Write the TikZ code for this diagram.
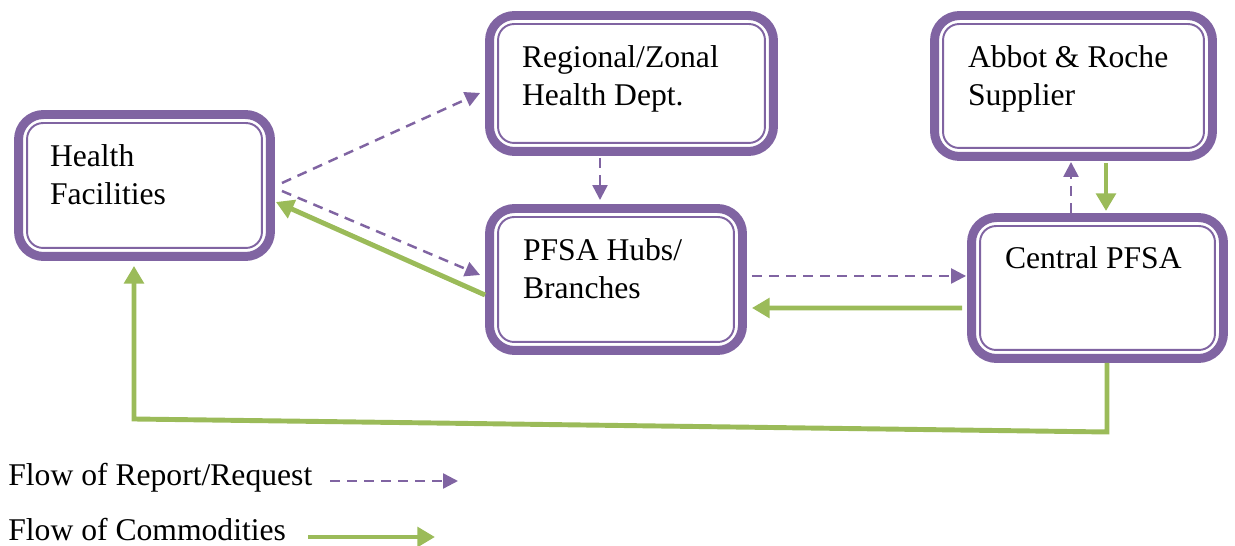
\documentclass[tikz,border=0pt]{standalone}
\usepackage{fontspec}
\setmainfont{Liberation Serif}
\usepackage{tikz}
\usetikzlibrary{arrows.meta}
\usepackage{xcolor}
\definecolor{boxpurple}{HTML}{8064A2}
\definecolor{flowgreen}{HTML}{9BBB59}

\begin{document}
\begin{tikzpicture}[x=0.02cm, y=-0.02cm,
        unit/.style={draw=boxpurple, line width=5.1pt, rounded corners=0.5cm, fill=white,
            align=flush left, inner sep=0pt, font=\fontsize{18}{21.5}\selectfont, text height=0.4cm},
        innerline/.style={draw=boxpurple, line width=1.1pt, rounded corners=0.32cm},
        request/.style={draw=boxpurple, line width=1.4pt, dash pattern=on 5.7pt off 4pt,
            -{Triangle[length=8.5pt, width=8.5pt]}},
        commodity/.style={draw=flowgreen, line width=2.8pt, -{Triangle[length=10pt, width=11pt]}},
        legend/.style={font=\fontsize{18}{21.5}\selectfont, inner sep=0pt}]
        \useasboundingbox (0,0) rectangle (1235,546);
        % Boxes
        \node [unit, minimum width=5.04cm, minimum height=2.84cm, text width=3.78cm, text depth=1.14cm] (hf) at (144.5,185.5) {Health\\Facilities};
        \node [unit, minimum width=5.68cm, minimum height=2.72cm, text width=4.38cm, text depth=1.02cm] (rz) at (631.5,83.5) {Regional/Zonal\\Health Dept.};
        \node [unit, minimum width=5.06cm, minimum height=2.84cm, text width=3.72cm, text depth=1.14cm] (hub) at (616,279.5) {PFSA Hubs/\\Branches};
        \node [unit, minimum width=5.56cm, minimum height=2.82cm, text width=4.22cm, text depth=1.12cm] (sup) at (1073.5,86) {Abbot \& Roche\\Supplier};
        \node [unit, minimum width=5.04cm, minimum height=2.82cm, text width=3.7cm, text depth=1.16cm] (cen) at (1097.5,288) {Central PFSA};
        \foreach \n in {hf, rz, hub, sup, cen}
            \draw [innerline] ([shift={(13,13)}]\n.north west) rectangle ([shift={(-13,-13)}]\n.south east);
        % Report/request flow
        \draw [request] ([shift={(7,-2.5)}]hf.east) -- ([shift={(-5,9.5)}]rz.west);
        \draw [request] ([shift={(7,5.5)}]hf.east) -- ([shift={(-5,-4.5)}]hub.west);
        \draw [request] ([shift={(-31.5,2)}]rz.south) -- ([shift={(-16,-4)}]hub.north);
        \draw [request] ([shift={(5,-3.5)}]hub.east) -- ([shift={(-1,-12)}]cen.west);
        \draw [request] ([shift={(-26.5,0)}]cen.north) -- ([shift={(-2.5,1)}]sup.south);
        % Commodity flow
        \draw [commodity] ([shift={(0,15.5)}]hub.west) -- ([shift={(1,16.5)}]hf.east);
        \draw [commodity] ([shift={(-5,20)}]cen.west) -- ([shift={(5,28.5)}]hub.east);
        \draw [commodity] ([shift={(32.5,2)}]sup.south) -- ([shift={(8.5,-2)}]cen.north);
        \coordinate (loopR) at (1107,432);
        \coordinate (loopL) at (134,419);
        \draw [commodity] ([shift={(9.5,0)}]cen.south) -- (loopR) -- (loopL) -- ([shift={(-10.5,5)}]hf.south);
        % Legend
        \node [legend, anchor=base west] (legreq) at (8,486) {Flow of Report/Request};
        \node [legend, anchor=base west] (legcom) at (8,541) {Flow of Commodities};
        \coordinate (req0) at (330,481);
        \coordinate (req1) at (458,481);
        \draw [request] (req0) -- (req1);
        \coordinate (com0) at (308,537);
        \coordinate (com1) at (435,537);
        \draw [commodity] (com0) -- (com1);
    \end{tikzpicture}
\end{document}
